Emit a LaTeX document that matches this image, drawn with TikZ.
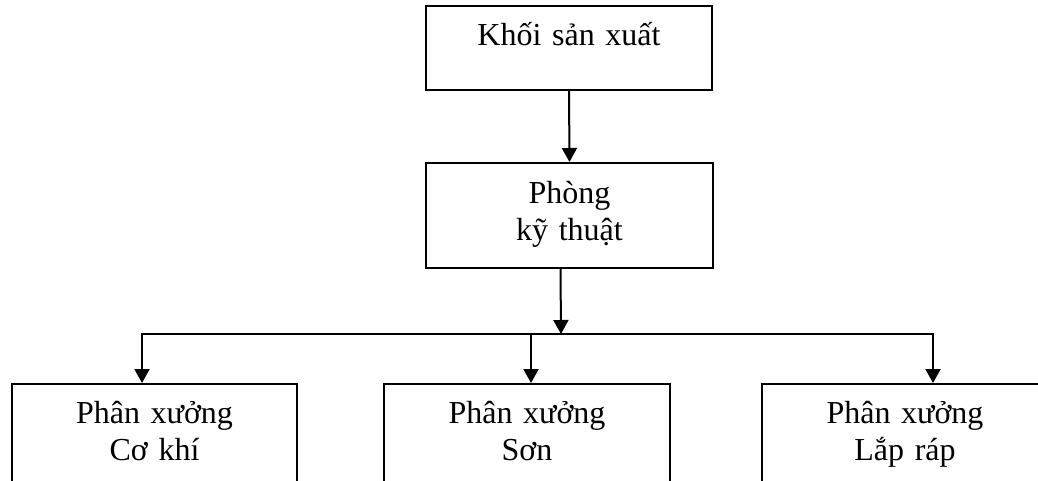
\documentclass[tikz,border=0pt]{standalone}
\usepackage{fontspec}
\setmainfont{Liberation Serif}
\usetikzlibrary{arrows.meta}
\tikzset{
  orgbox/.style={draw=black,line width=2pt,inner sep=0pt,align=center,anchor=north west,font=\fontsize{32}{37}\selectfont},
  orgflow/.style={-{Triangle[length=14pt,width=15pt]},draw=black,line width=2pt},
  orgline/.style={draw=black,line width=2pt}
}

\begin{document}
\begin{tikzpicture}[x=1pt,y=-1pt]
  \useasboundingbox (0,0) rectangle (1038,481);
  \clip (0,0) rectangle (1038,481);
  % boxes
  \node[orgbox,text width=286pt,text height=40pt,text depth=44pt] (khoi) at (425,5) {Khối sản xuất};
  \node[orgbox,text width=287pt,text height=41pt,text depth=64pt] (phong) at (425,162) {Phòng\\kỹ thuật};
  \node[orgbox,text width=285pt,text height=39pt,text depth=68pt] (coki) at (11,383) {Phân xưởng\\Cơ khí};
  \node[orgbox,text width=286pt,text height=39pt,text depth=68pt] (son) at (383,383) {Phân xưởng\\Sơn};
  \node[orgbox,text width=286pt,text height=39pt,text depth=68pt] (lap) at (761,383) {Phân xưởng\\Lắp ráp};
  % bus
  \coordinate (split) at (561,334);
  \coordinate (busL) at (142,334);
  \coordinate (busM) at (531,334);
  \coordinate (busR) at (933,334);
  % arrows
  \draw[orgflow] (khoi.south) -- (phong.north);
  \draw[orgflow] ([xshift=-9pt]phong.south) -- (split);
  \draw[orgflow] (busM) -- (busL) -- (busL |- coki.north);
  \draw[orgflow] (busM) -- (busR) -- (busR |- lap.north);
  \draw[orgflow] (busM) -- (busM |- son.north);
\end{tikzpicture}
\end{document}
